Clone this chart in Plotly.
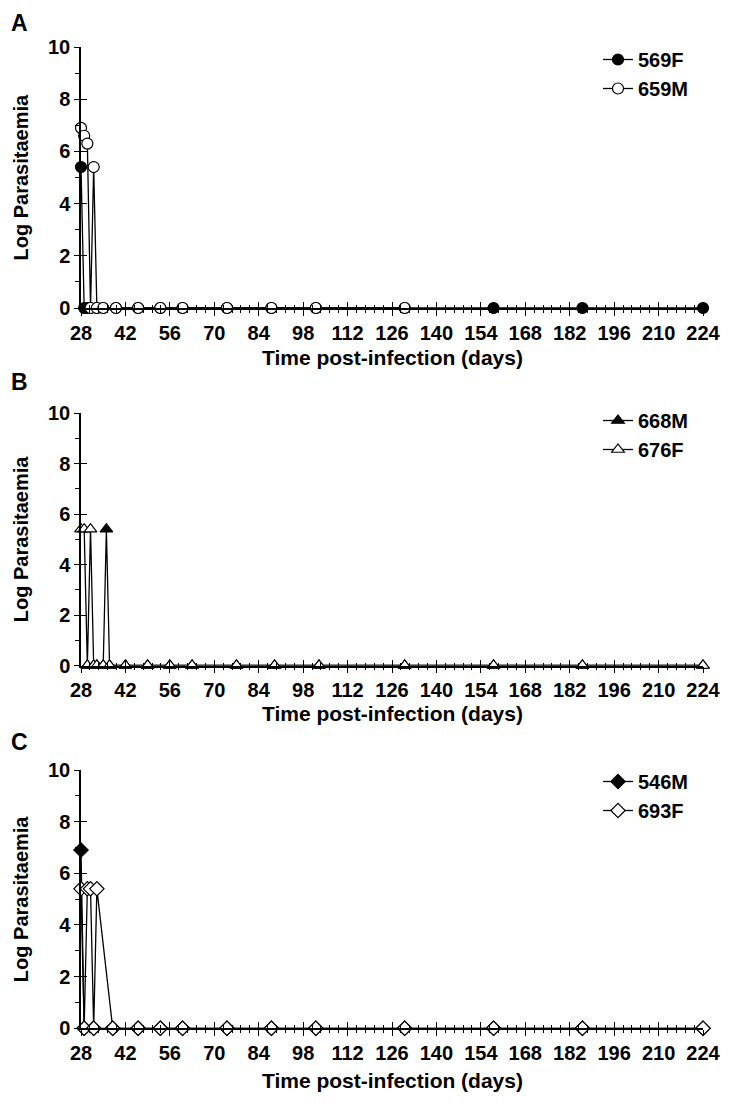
import plotly.graph_objects as go

# ---------------- data ----------------
# Panel A
days_569F = [28, 29, 30, 31, 33, 35, 39, 46, 53, 60, 74, 88, 102, 130, 158, 186, 224]
para_569F = [5.4, 0, 0, 0, 0, 0, 0, 0, 0, 0, 0, 0, 0, 0, 0, 0, 0]
days_659M = [28, 29, 30, 31, 32, 33, 35, 39, 46, 53, 60, 74, 88, 102, 130]
para_659M = [6.9, 6.6, 6.3, 0, 5.4, 0, 0, 0, 0, 0, 0, 0, 0, 0, 0]
# Panel B
days_668M = [30, 32, 33, 35, 36, 37, 42, 49, 56, 63, 77, 89, 103, 130, 158, 186, 224]
para_668M = [0, 0, 0, 0, 5.4, 0, 0, 0, 0, 0, 0, 0, 0, 0, 0, 0, 0]
days_676F = [28, 29, 30, 31, 32, 33, 35, 37, 42, 49, 56, 63, 77, 89, 103, 130, 158, 186, 224]
para_676F = [5.4, 5.4, 0, 5.4, 0, 0, 0, 0, 0, 0, 0, 0, 0, 0, 0, 0, 0, 0, 0]
# Panel C
days_546M = [28, 29, 32, 38, 46, 53, 60, 74, 88, 102, 130, 158, 186, 224]
para_546M = [6.9, 0, 0, 0, 0, 0, 0, 0, 0, 0, 0, 0, 0, 0]
days_693F = [28, 29, 30, 31, 32, 33, 38, 46, 53, 60, 74, 88, 102, 130, 158, 186, 224]
para_693F = [5.4, 0, 5.4, 5.4, 0, 5.4, 0, 0, 0, 0, 0, 0, 0, 0, 0, 0, 0]

x_ticks = [28, 42, 56, 70, 84, 98, 112, 126, 140, 154, 168, 182, 196, 210, 224]
y_ticks = [0, 2, 4, 6, 8, 10]
panel_letters = ["A", "B", "C"]
x_title = "Time post-infection (days)"
y_title = "Log Parasitaemia"

# ---------------- layout helpers ----------------
PAGE_W, PAGE_H = 729, 1115
OFF = 8                      # default body margin of the html page
W, H = PAGE_W - 2 * OFF, PAGE_H - 2 * OFF
FONT = "Liberation Sans, Arial, sans-serif"
X_LEFT, X_RIGHT = 81, 703    # page pixels of day 28 / day 224
panels_px = [(47, 308), (413, 665.5), (770, 1028.3)]  # page y of 10 and of 0
legend_top_px = [40, 401, 762]
xtitle_px = [357, 713, 1080]
letter_px = [23, 382, 742]

def fx(p):
    return (p - OFF) / W

def fy(p):
    return (H - (p - OFF)) / H

series = [
    [("569F", days_569F, para_569F, "circle", "black"),
     ("659M", days_659M, para_659M, "circle", "white")],
    [("668M", days_668M, para_668M, "triangle-up", "black"),
     ("676F", days_676F, para_676F, "triangle-up", "white")],
    [("546M", days_546M, para_546M, "diamond", "black"),
     ("693F", days_693F, para_693F, "diamond", "white")],
]

fig = go.Figure()
layout = dict(
    width=W, height=H, margin=dict(l=0, r=0, t=0, b=0, autoexpand=False),
    paper_bgcolor="white", plot_bgcolor="white",
    font=dict(family=FONT, color="black"),
    showlegend=True,
)

annotations = []
for i in range(3):
    n = i + 1
    sfx = "" if n == 1 else str(n)
    ov = str(n + 3)
    top, bot = panels_px[i]
    ydom = [fy(bot), fy(top)]
    xdom = [fx(X_LEFT), fx(X_RIGHT)]
    legname = "legend" if n == 1 else "legend%d" % n
    for (name, xs, ys, sym, fill) in series[i]:
        fig.add_trace(go.Scatter(
            x=xs, y=ys, name=name, mode="lines+markers",
            xaxis="x" + sfx, yaxis="y" + sfx,
            line=dict(color="black", width=1.3),
            marker=dict(symbol=sym, size=11, color=fill,
                        line=dict(color="black", width=1.2)),
            cliponaxis=False, legend=legname,
        ))
    # main axes
    layout["xaxis" + sfx] = dict(
        domain=xdom, anchor="y" + sfx, range=[28, 224], automargin=False,
        tickmode="array", tickvals=x_ticks, ticktext=[str(v) for v in x_ticks],
        ticks="outside", ticklen=6, tickwidth=1.2, tickcolor="black",
        minor=dict(ticks="outside", ticklen=3, dtick=2.8, tick0=28, tickcolor="black", tickwidth=1),
        showline=True, linecolor="black", linewidth=1.5,
        showgrid=False, zeroline=False,
        tickfont=dict(size=20, family=FONT, weight="bold"),
    )
    layout["yaxis" + sfx] = dict(
        domain=ydom, anchor="x" + sfx, range=[0, 10], automargin=False,
        tickmode="array", tickvals=y_ticks, ticktext=[str(v) for v in y_ticks],
        ticks="outside", ticklen=5, tickwidth=1.2, tickcolor="black",
        minor=dict(ticks="outside", ticklen=4, dtick=1, tickcolor="black", tickwidth=1),
        showline=True, linecolor="black", linewidth=1.5,
        showgrid=False, zeroline=False,
        tickfont=dict(size=20, family=FONT, weight="bold"),
    )
    # overlay axes for the inner half of crossing ticks
    layout["xaxis" + ov] = dict(
        overlaying="x" + sfx, anchor="y" + sfx, range=[28, 224], automargin=False,
        tickmode="array", tickvals=x_ticks, showticklabels=False,
        ticks="inside", ticklen=6, tickwidth=1.2, tickcolor="black",
        minor=dict(ticks="inside", ticklen=3, dtick=2.8, tick0=28, tickcolor="black", tickwidth=1),
        showline=False, showgrid=False, zeroline=False, side="bottom",
    )
    layout["yaxis" + ov] = dict(
        overlaying="y" + sfx, anchor="x" + sfx, range=[0, 10], automargin=False,
        tickmode="array", tickvals=y_ticks, showticklabels=False,
        ticks="inside", ticklen=6, tickwidth=1.2, tickcolor="black",
        showline=False, showgrid=False, zeroline=False, side="left",
    )
    layout[legname] = dict(
        x=fx(694), y=fy(legend_top_px[i]), xanchor="right", yanchor="top",
        bgcolor="rgba(0,0,0,0)", font=dict(size=20, family=FONT, weight="bold"),
        itemwidth=30, tracegroupgap=0,
    )
    annotations.append(dict(
        text=panel_letters[i], x=fx(9), y=fy(letter_px[i]), xref="paper", yref="paper",
        xanchor="left", yanchor="middle", showarrow=False,
        font=dict(size=23, family=FONT, weight="bold"),
    ))
    # axis titles
    annotations.append(dict(
        text=x_title, x=fx((X_LEFT + X_RIGHT) / 2), y=fy(xtitle_px[i]),
        xref="paper", yref="paper", xanchor="center", yanchor="middle", showarrow=False,
        font=dict(size=21, family=FONT, weight="bold"),
    ))
    annotations.append(dict(
        text=y_title, x=fx(21), y=fy((top + bot) / 2),
        xref="paper", yref="paper", xanchor="center", yanchor="middle", showarrow=False,
        textangle=-90, font=dict(size=20, family=FONT, weight="bold"),
    ))

layout["annotations"] = annotations
fig.update_layout(**layout)

# invisible traces so the overlay tick axes render
for i in range(3):
    ov = str(i + 4)
    fig.add_trace(go.Scatter(x=[28], y=[0], xaxis="x" + ov, yaxis="y" + ov,
                             mode="markers", marker=dict(opacity=0), showlegend=False,
                             hoverinfo="skip"))

fig.write_html("out.html")
